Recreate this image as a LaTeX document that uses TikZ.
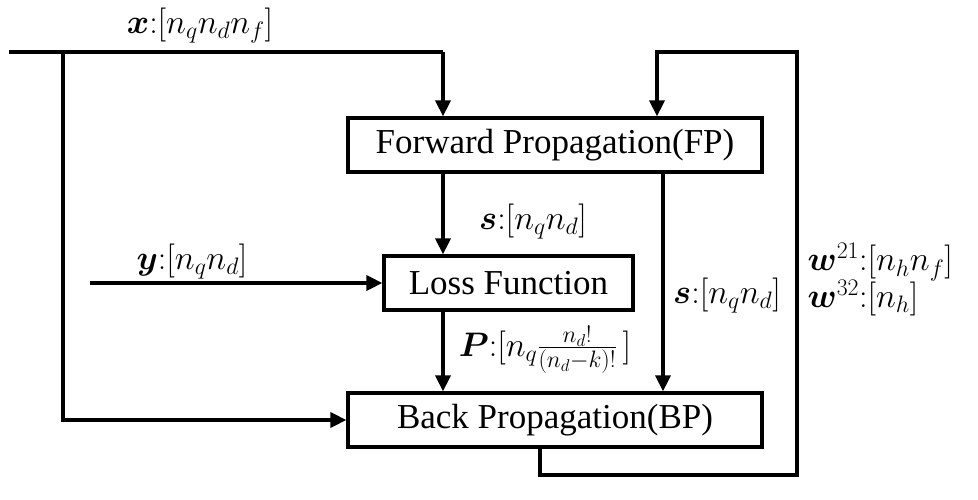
\documentclass[tikz,border=0pt]{standalone}
\usepackage{fix-cm}
\usepackage{amsmath}
\usepackage{fontspec}
\setmainfont{Liberation Serif}
\usetikzlibrary{arrows.meta, positioning}

\begin{document}
\begin{tikzpicture}[x=1pt, y=-1pt, line width=3.2pt,
    block/.style={draw, minimum height=54pt, inner sep=0pt, font=\fontsize{35}{40}\selectfont},
    arr/.style={-{Triangle[length=16pt, width=15pt]}},
    lab/.style={inner sep=0pt, font=\fontsize{34}{40}\selectfont}]
  \useasboundingbox (0,0) rectangle (978,500);
  % boxes
  \node[block, minimum width=414pt] (fp) at (555,145) {Forward Propagation(FP)};
  \node[block, minimum width=249pt] (loss) at (508.5,283) {Loss Function};
  \node[block, minimum width=414pt] (bp) at (555,420) {Back Propagation(BP)};
  % turning points
  \coordinate (xstart) at (9,52);
  \coordinate (xsplit) at (63,52);
  \coordinate (xturn) at (443,52);
  \coordinate (ystart) at (90,283);
  \coordinate (sright) at (663,0);
  \coordinate (bpdrop) at (540,0);
  \coordinate (loopbr) at (797,475);
  \coordinate (looptl) at (657,52);
  % connectors
  \draw (xstart) -- (xturn);
  \draw[arr] (xturn) -- (xturn |- fp.north);
  \draw[arr] (xsplit) |- (bp.west);
  \draw[arr] (xturn |- fp.south) -- (xturn |- loss.north);
  \draw[arr] (xturn |- loss.south) -- (xturn |- bp.north);
  \draw[arr] (ystart) -- (loss.west);
  \draw[arr] (sright |- fp.south) -- (sright |- bp.north);
  \draw[arr] (bpdrop |- bp.south) |- (loopbr) |- (looptl) -- (looptl |- fp.north);
  % labels
  \node[lab] (xlab) at (200,26) {$\boldsymbol{x}{:}[n_qn_dn_f]$};
  \node[lab] (ylab) at (192,262) {$\boldsymbol{y}{:}[n_qn_d]$};
  \node[lab] (slab) at (533,222) {$\boldsymbol{s}{:}[n_qn_d]$};
  \node[lab] (plab) at (545,350) {$\boldsymbol{P}{:}[n_q\tfrac{n_d!}{(n_d-k)!}\,]$};
  \node[lab] (srlab) at (727,296) {$\boldsymbol{s}{:}[n_qn_d]$};
  \node[lab, anchor=west] (w1lab) at (806,262) {$\boldsymbol{w}^{21}{:}[n_hn_f]$};
  \node[lab, anchor=west] (w2lab) at (806,298) {$\boldsymbol{w}^{32}{:}[n_h]$};
\end{tikzpicture}
\end{document}
